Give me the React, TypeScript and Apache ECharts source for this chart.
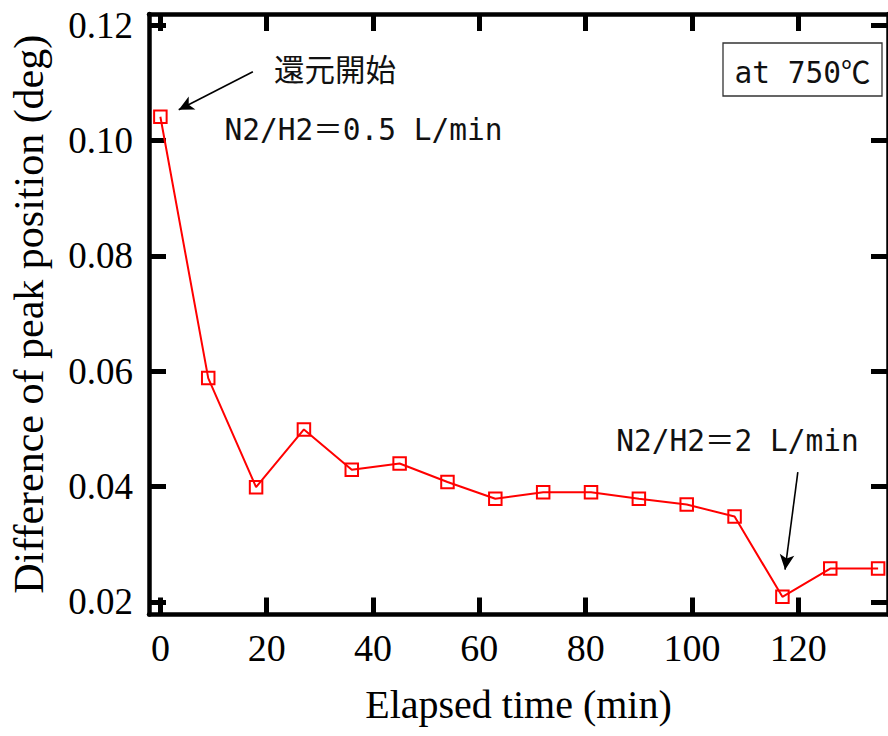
import React, { useEffect, useRef } from "react";
import * as echarts from "echarts";

// ---- data ----
const elapsedMin = [0, 9, 18, 27, 36, 45, 54, 63, 72, 81, 90, 99, 108, 117, 126, 135];
const peakDiff = [0.1041, 0.0588, 0.0399, 0.0499, 0.0429, 0.044, 0.0408, 0.0379, 0.039, 0.039, 0.0379, 0.0369, 0.0348, 0.0209, 0.0258, 0.0258];

const xTicks = [0, 20, 40, 60, 80, 100, 120];
const yTicks = [0.02, 0.04, 0.06, 0.08, 0.1, 0.12];

// annotation arrows in data coordinates: [fromX, fromY, toX, toY]
const arrowStart = [17.4, 0.1119, 3.45, 0.1053];
const arrowFlow = [119.9, 0.0425, 117.5, 0.0256];

const annReduction = "還元開始";
const annFlow1 = "N2/H2＝0.5 L/min";
const annFlow2 = "N2/H2＝2 L/min";
const annTemp = "at 750℃";

const X_MIN = -2.14;
const X_MAX = 136.86;
const Y_MIN = 0.01783;
const Y_MAX = 0.12191;

export default function App() {
  const ref = useRef<HTMLDivElement>(null);

  useEffect(() => {
    if (!ref.current) return;
    const chart = echarts.init(ref.current, null, { renderer: "svg" });

    const serif = "'Liberation Serif', 'Times New Roman', serif";
    const mono = "'DejaVu Sans Mono', 'Noto Sans CJK JP', monospace";
    const axisLine = { show: true, onZero: false, lineStyle: { color: "#000", width: 4.5 } };
    const tick = (vals: number[]) => ({
      show: true,
      inside: true,
      length: 17,
      customValues: vals,
      lineStyle: { color: "#000", width: 5 },
    });

    const pts = elapsedMin.map((x, i) => [x, peakDiff[i]]);

    chart.setOption({
      animation: false,
      backgroundColor: "#fff",
      grid: { left: 148, top: 14, right: -6, bottom: 121.5, containLabel: false },
      xAxis: [
        {
          type: "value",
          position: "bottom",
          min: X_MIN,
          max: X_MAX,
          axisLine,
          axisTick: tick(xTicks),
          splitLine: { show: false },
          axisLabel: {
            customValues: xTicks,
            margin: 14,
            color: "#000",
            fontFamily: serif,
            fontSize: 38,
          },
          name: "Elapsed time (min)",
          nameLocation: "middle",
          nameGap: 70,
          nameTextStyle: { color: "#000", fontFamily: serif, fontSize: 40 },
        },
        {
          type: "value",
          position: "top",
          min: X_MIN,
          max: X_MAX,
          axisLine,
          axisTick: tick(xTicks),
          splitLine: { show: false },
          axisLabel: { show: false },
        },
      ],
      yAxis: [
        {
          type: "value",
          position: "left",
          min: Y_MIN,
          max: Y_MAX,
          axisLine,
          axisTick: tick(yTicks),
          splitLine: { show: false },
          axisLabel: {
            customValues: yTicks,
            formatter: (v: number) => v.toFixed(2),
            margin: 16,
            color: "#000",
            fontFamily: serif,
            fontSize: 37,
          },
          name: "Difference of peak position (deg)",
          nameLocation: "middle",
          nameGap: 99,
          nameTextStyle: { color: "#000", fontFamily: serif, fontSize: 42 },
        },
        {
          type: "value",
          position: "right",
          min: Y_MIN,
          max: Y_MAX,
          axisLine,
          axisTick: tick(yTicks),
          splitLine: { show: false },
          axisLabel: { show: false },
        },
      ],
      series: [
        {
          type: "line",
          data: pts,
          xAxisIndex: 0,
          yAxisIndex: 0,
          symbol: "rect",
          symbolSize: 12.5,
          lineStyle: { color: "#ff0000", width: 2 },
          itemStyle: { color: "rgba(255,255,255,0)", borderColor: "#ff0000", borderWidth: 2 },
          emphasis: { disabled: true },
          markLine: {
            silent: true,
            animation: false,
            symbol: ["none", "arrow"],
            symbolSize: [11, 15],
            label: { show: false },
            lineStyle: { color: "#000", width: 1.6, type: "solid" },
            emphasis: { disabled: true },
            data: [
              [
                { coord: [arrowStart[0], arrowStart[1]] },
                { coord: [arrowStart[2], arrowStart[3]] },
              ],
              [
                { coord: [arrowFlow[0], arrowFlow[1]] },
                { coord: [arrowFlow[2], arrowFlow[3]] },
              ],
            ],
          },
        },
      ],
      graphic: [
        {
          type: "text",
          x: 274,
          y: 68,
          style: {
            text: annReduction,
            fontFamily: "'Noto Sans CJK JP', sans-serif",
            fontSize: 30.5,
            fill: "#111",
            verticalAlign: "middle",
            align: "left",
          },
        },
        {
          type: "text",
          x: 363.5,
          y: 130,
          style: {
            text: annFlow1,
            fontFamily: mono,
            fontSize: 29.5,
            fill: "#111",
            verticalAlign: "middle",
            align: "center",
          },
        },
        {
          type: "text",
          x: 737.5,
          y: 440.5,
          style: {
            text: annFlow2,
            fontFamily: mono,
            fontSize: 29.5,
            fill: "#111",
            verticalAlign: "middle",
            align: "center",
          },
        },
        {
          type: "rect",
          shape: { x: 723, y: 43, width: 159, height: 53 },
          style: { fill: "#fff", stroke: "#333", lineWidth: 1.3 },
        },
        {
          type: "text",
          x: 802.5,
          y: 72.5,
          style: {
            text: annTemp,
            fontFamily: mono,
            fontSize: 29.5,
            fill: "#111",
            verticalAlign: "middle",
            align: "center",
          },
        },
      ],
    });

    return () => chart.dispose();
  }, []);

  return (
    <div
      ref={ref}
      style={{ position: "fixed", left: 0, top: 0, width: 888, height: 736, background: "#fff" }}
    />
  );
}
